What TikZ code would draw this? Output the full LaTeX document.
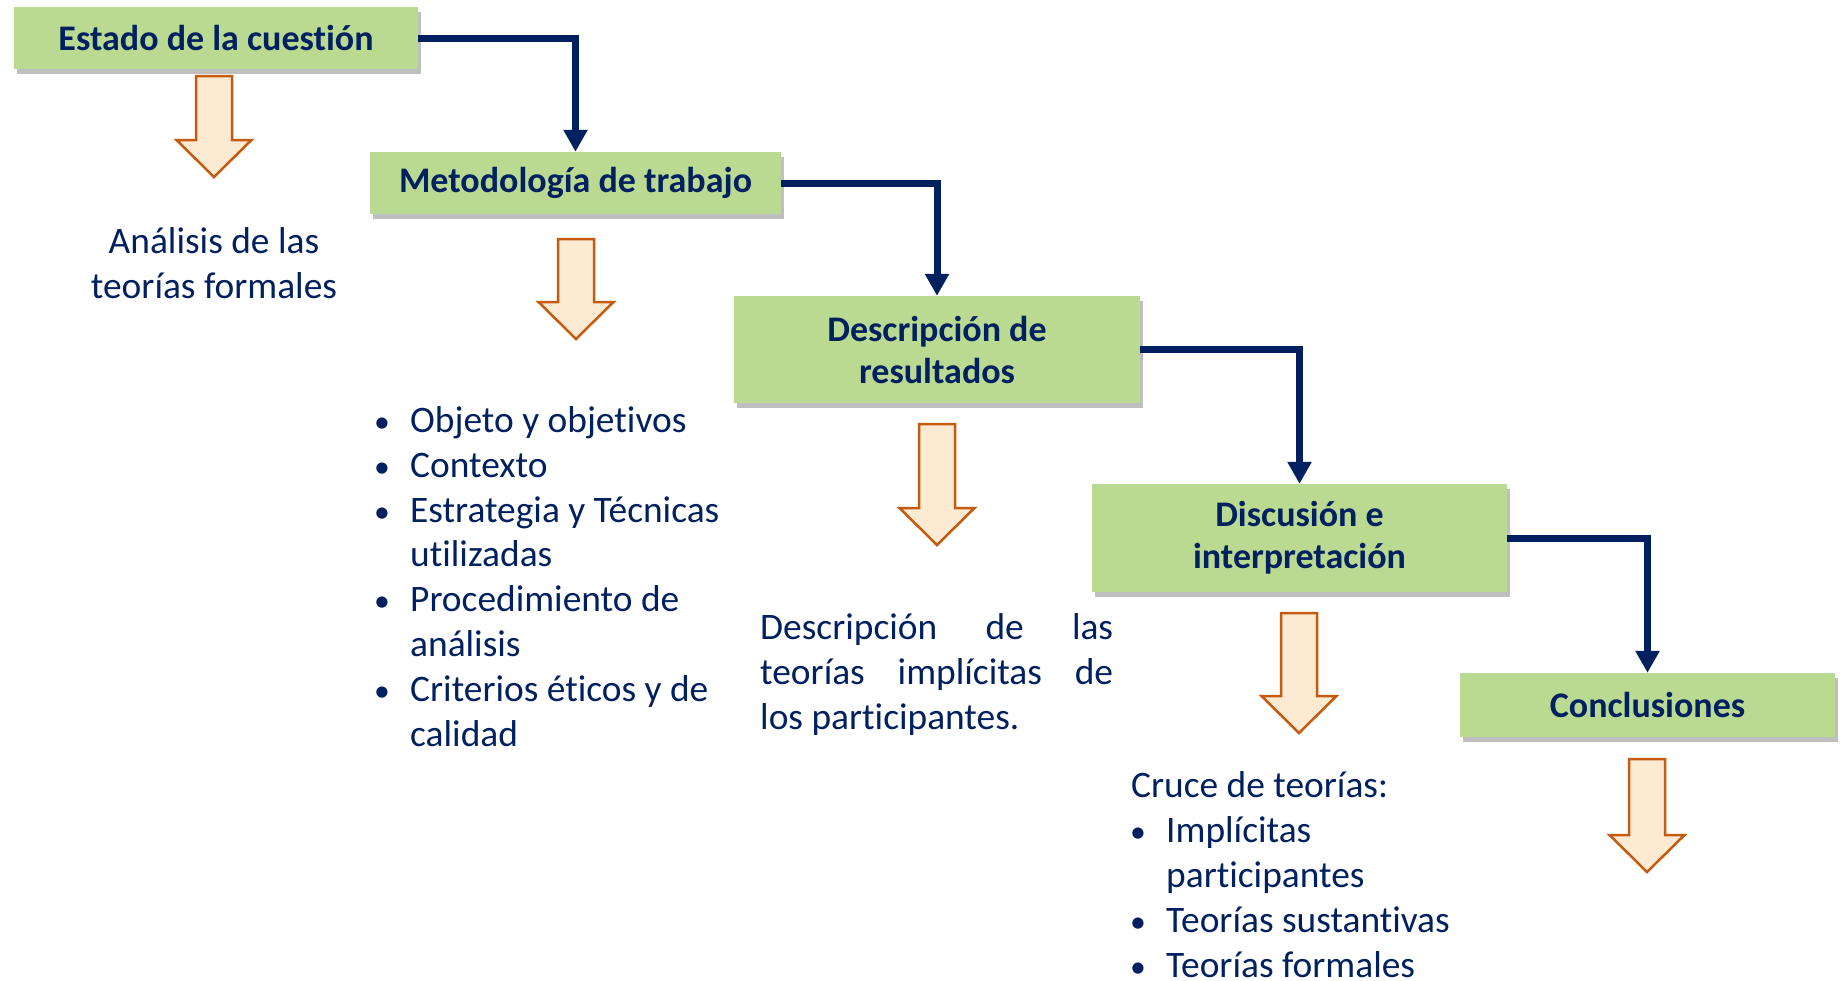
\documentclass[tikz,border=0pt]{standalone}
\usepackage{fontspec}
\setmainfont{Carlito}[Ligatures=NoCommon]
\usetikzlibrary{shadows,arrows.meta}
\definecolor{navy}{HTML}{002060}
\definecolor{boxgreen}{RGB}{186,217,145}
\definecolor{arrline}{HTML}{C55A11}
\definecolor{arrfill}{HTML}{FCEAD2}
\tikzset{
 stagebox/.style={fill=boxgreen, draw=none, text=navy, font=\fontsize{36}{42}\selectfont\bfseries,
   align=center, inner sep=0pt,
   drop shadow={shadow xshift=3pt, shadow yshift=-5pt, opacity=0.25, fill=black}},
 flow/.style={draw=navy, line width=7pt, -{Triangle[width=23pt,length=22pt]}},
 bigarrow/.style={draw=arrline, fill=arrfill, line width=2.5pt, line join=miter},
 body/.style={text=navy, font=\fontsize{37.4}{44.8}\selectfont, inner sep=0pt, align=left},
}
\newcommand\orarrow[3]{%
 \draw[bigarrow] (#1-18,#2) -- (#1+18,#2) -- (#1+18,#3-37) -- (#1+37.5,#3-37) -- (#1,#3)
   -- (#1-37.5,#3-37) -- (#1-18,#3-37) -- cycle;}
\newcommand\bul{\makebox[30pt][l]{\kern-6pt\scalebox{0.85}{•}}}
\begin{document}
\begin{tikzpicture}[x=1pt,y=-1pt]
\useasboundingbox (0,0) rectangle (1844,980);
\node[stagebox, minimum width=404pt, minimum height=62pt] (b1) at (216,38) {Estado de la cuestión};
\node[stagebox, minimum width=411pt, minimum height=62pt] (b2) at (575.5,183) {Metodología de trabajo};
\node[stagebox, minimum width=406pt, minimum height=107pt] (b3) at (937,349.5) {Descripción de\\resultados};
\node[stagebox, minimum width=415pt, minimum height=108pt] (b4) at (1299.5,538) {Discusión e\\interpretación};
\node[stagebox, minimum width=375pt, minimum height=64pt] (b5) at (1647.5,705) {Conclusiones};

\draw[flow] (b1.east) -| (b2.north);
\draw[flow] (b2.east) -| (b3.north);
\draw[flow] (b3.east) -| (b4.north);
\draw[flow] (b4.east) -| (b5.north);

\orarrow{214}{76}{177}
\orarrow{576}{239}{339}
\orarrow{937}{424}{545}
\orarrow{1299}{613}{733}
\orarrow{1647}{759}{872}

\node[body, align=center, anchor=base] (t1) at (214,298) {Análisis de las\\teorías formales};
\node[body, anchor=base west] (t2) at (380,746) {\bul Objeto y objetivos\\
 \bul Contexto\\
 \bul Estrategia y Técnicas\\
 \hspace*{30pt}utilizadas\\
 \bul Procedimiento de\\
 \hspace*{30pt}análisis\\
 \bul Criterios éticos y de\\
 \hspace*{30pt}calidad};
\node[body, anchor=base west] (t3) at (760,729) {\hbox to 353pt{Descripción\hfill de\hfill las}\\
 \hbox to 353pt{teorías\hfill implícitas\hfill de}\\
 los participantes.};
\node[body, anchor=base west] (t4) at (1131,977) {Cruce de teorías:\\
 \hspace*{5pt}\bul Implícitas\\
 \hspace*{35pt}participantes\\
 \hspace*{5pt}\bul Teorías sustantivas\\
 \hspace*{5pt}\bul Teorías formales};
\end{tikzpicture}
\end{document}
